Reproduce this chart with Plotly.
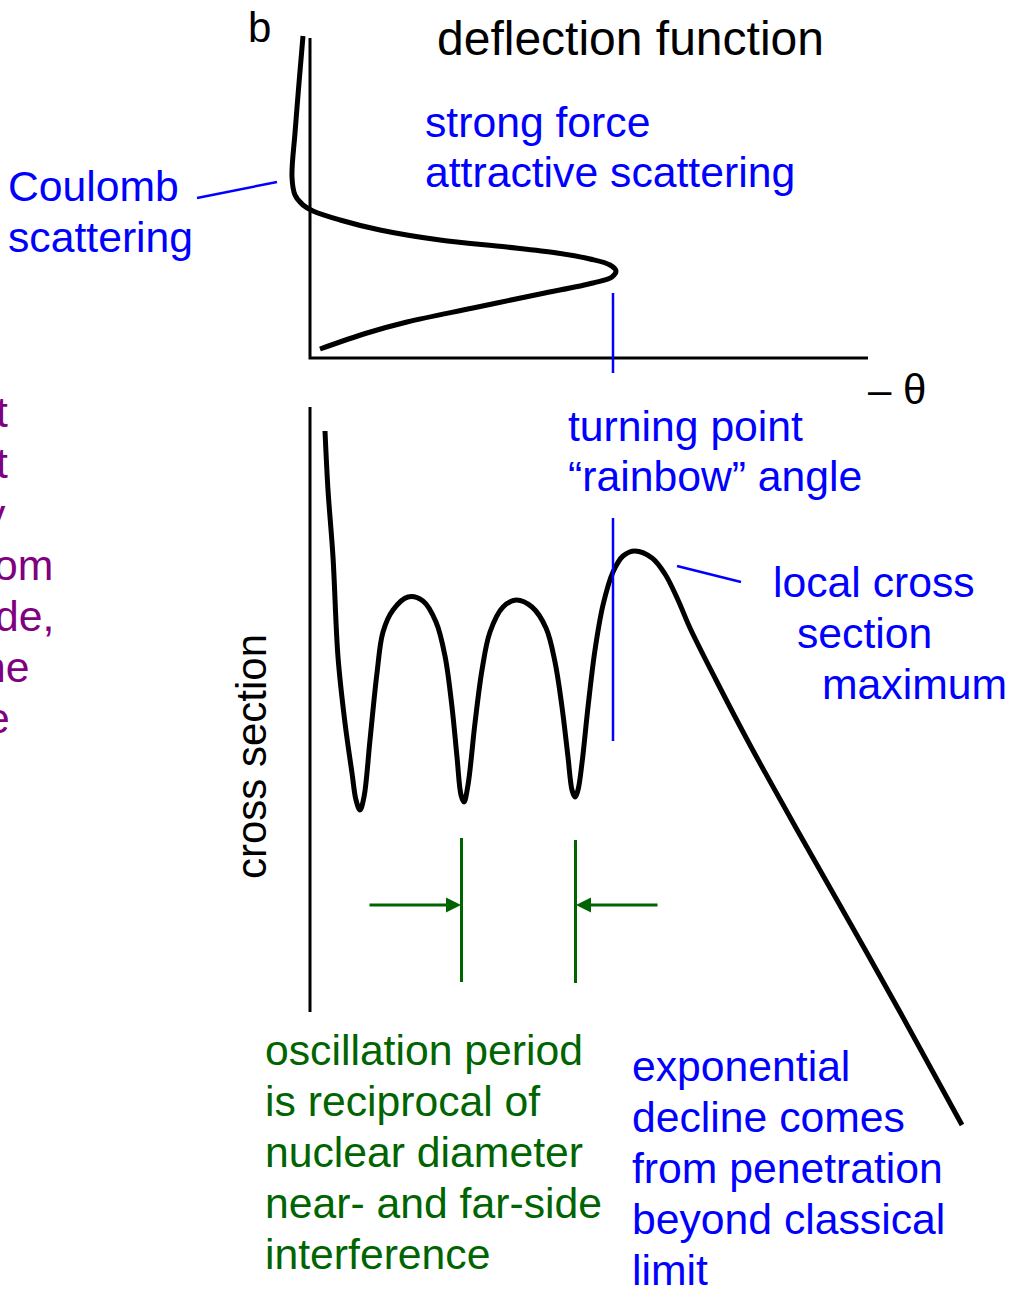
import plotly.graph_objects as go

W, H = 1015, 1299
FONT = "Liberation Sans, Arial, Helvetica, sans-serif"
BLUE = "#0000ff"
GREEN = "#006400"
PURPLE = "#800080"

# deflection function b(-theta) (page pixels, y down)
defl_x = [303, 299, 295, 292, 295, 303, 313, 340, 380, 440, 507, 557, 590, 610,
          616, 612, 593, 540, 473, 407, 367, 320]
defl_y = [36, 83, 133, 177, 195, 205, 211, 220, 230, 240, 247, 253, 259, 265,
          271, 277, 283, 294, 308, 322, 333, 349]

# cross section vs angle
xsec_x = [325, 328, 333, 338, 345, 352, 356, 360, 364, 370, 377, 383, 393, 408,
          423, 436, 445, 452, 457, 461, 464, 468, 475, 482, 490, 503, 516, 532,
          546, 555, 562, 568, 572, 575, 578, 582, 588, 595, 603, 613, 623, 635,
          652, 665, 678, 690, 716, 750, 800, 850, 900, 962]
xsec_y = [431, 490, 557, 657, 723, 773, 800, 810, 797, 740, 673, 632, 610, 597,
          601, 622, 656, 707, 757, 795, 802, 785, 723, 670, 632, 607, 600, 607,
          628, 662, 707, 757, 790, 797, 790, 763, 707, 650, 605, 572, 556, 551,
          558, 574, 600, 628, 680, 745, 835, 923, 1012, 1125]

# label texts
title_text = "deflection function"
strong_lines = ["strong force", "attractive scattering"]
coulomb_lines = ["Coulomb", "scattering"]
rainbow_lines = ["turning point", "\u201crainbow\u201d angle"]
local_lines = ["local cross", "section", "maximum"]
osc_lines = ["oscillation period", "is reciprocal of", "nuclear diameter",
             "near- and far-side", "interference"]
expo_lines = ["exponential", "decline comes", "from penetration",
              "beyond classical", "limit"]
# purple paragraph, cut off by the left page edge
purple_frag = ["t", "t", "y", "om", "de,", "ne", "e", "", "."]
purple_right = [8, 8, 6, 53, 54, 29, 10, 0, 3]

fig = go.Figure()


def line(xs, ys, color="black", width=3):
    fig.add_trace(go.Scatter(x=xs, y=ys, mode="lines", hoverinfo="skip",
                             line=dict(color=color, width=width)))


def text(t, x, base, color, size=42.7, anchor="left", angle=0):
    pad = {"left": -2, "right": 2, "center": 0}[anchor]
    fig.add_annotation(x=x + pad, y=base - 0.35 * size, text=t, showarrow=False,
                       xanchor=anchor, yanchor="middle", textangle=angle,
                       font=dict(family=FONT, size=size, color=color))


def block(lines, x, base0, color, step=51, xs=None):
    for i, t in enumerate(lines):
        text(t, xs[i] if xs else x, base0 + i * step, color)


# axes of the two panels
line([310, 310, 868], [38, 358, 358])
line([310, 310], [407, 1012])

# curves
fig.add_trace(go.Scatter(x=defl_x, y=defl_y, mode="lines", hoverinfo="skip",
                         line=dict(color="black", width=5, shape="spline", smoothing=1)))
fig.add_trace(go.Scatter(x=xsec_x, y=xsec_y, mode="lines", hoverinfo="skip",
                         line=dict(color="black", width=5, shape="spline", smoothing=1)))

# blue pointer lines
line([613, 613], [293, 373], BLUE, 2.5)
line([613, 613], [518, 741], BLUE, 2.5)
line([197, 277], [198, 182], BLUE, 2.5)
line([677, 741], [566, 582], BLUE, 2.5)

# green period bracket
line([461.5, 461.5], [838, 982], GREEN, 3)
line([575.5, 575.5], [840, 983], GREEN, 3)
for tip, tail in [(461, 368), (576, 659)]:
    fig.add_annotation(x=tip, y=905, ax=tail, ay=905, axref="x", ayref="y",
                       text="", showarrow=True, arrowhead=2, arrowsize=1,
                       arrowwidth=3, arrowcolor=GREEN, standoff=0)

# labels
text("b", 248, 42, "black", size=42)
text(title_text, 437, 55, "black", size=48)
text("\u2013 \u03b8", 868, 404, "black", size=42)
block(strong_lines, 425, 137, BLUE, step=50)
block(coulomb_lines, 8, 201, BLUE)
block(rainbow_lines, 568, 441, BLUE, step=50)
block(local_lines, None, 597, BLUE, xs=[773, 797, 822])
block(osc_lines, 265, 1065, GREEN)
block(expo_lines, 632, 1081, BLUE)
fig.add_annotation(x=251, y=757, text="cross section", showarrow=False,
                   xanchor="center", yanchor="middle", textangle=-90,
                   font=dict(family=FONT, size=42, color="black"))
for i, (t, r) in enumerate(zip(purple_frag, purple_right)):
    if t:
        text(t, r, 427 + i * 51, PURPLE, anchor="right")

fig.update_xaxes(range=[0, W], visible=False, fixedrange=True)
fig.update_yaxes(range=[H, 0], visible=False, fixedrange=True)
fig.update_layout(width=W, height=H, margin=dict(l=0, r=0, t=0, b=0),
                  plot_bgcolor="white", paper_bgcolor="white", showlegend=False)

fig.write_html("out.html", config={"staticPlot": True},
               post_script="document.body.style.margin='0';")
